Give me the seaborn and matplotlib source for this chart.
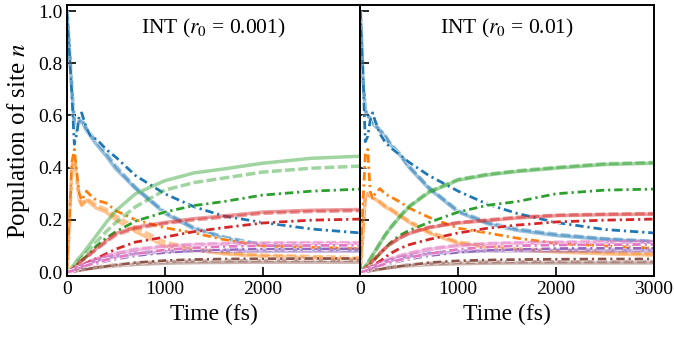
import numpy as np
import matplotlib
matplotlib.use("Agg")
import matplotlib.pyplot as plt
import matplotlib.patheffects as pe
import seaborn as sns

# ------------------------------
# Data
# ------------------------------
time_fs = [0, 25, 50, 75, 100, 125, 150, 200, 250, 300, 400, 500, 700,
           1000, 1300, 1600, 2000, 2500, 3000]

sites = ["1", "2", "3", "4", "5", "6", "7"]
panel_titles = ["INT ($r_0$ = 0.001)", "INT ($r_0$ = 0.01)"]

# panel 1 : r0 = 0.001
p1_solid = [
    [1.00, 0.85, 0.70, 0.57, 0.54, 0.575, 0.58, 0.54, 0.515, 0.49, 0.445, 0.395, 0.32, 0.225, 0.165, 0.13, 0.10, 0.09, 0.085],
    [0, 0.20, 0.40, 0.44, 0.36, 0.28, 0.255, 0.275, 0.26, 0.245, 0.23, 0.20, 0.155, 0.10, 0.085, 0.07, 0.06, 0.055, 0.05],
    [0, 0.008, 0.018, 0.03, 0.045, 0.055, 0.065, 0.09, 0.115, 0.14, 0.19, 0.235, 0.30, 0.35, 0.38, 0.395, 0.417, 0.436, 0.444],
    [0, 0.004, 0.01, 0.018, 0.027, 0.035, 0.045, 0.06, 0.075, 0.09, 0.12, 0.148, 0.172, 0.19, 0.205, 0.215, 0.23, 0.237, 0.24],
    [0, 0.003, 0.006, 0.01, 0.014, 0.018, 0.022, 0.03, 0.037, 0.043, 0.053, 0.06, 0.07, 0.078, 0.08, 0.08, 0.08, 0.08, 0.08],
    [0, 0.001, 0.002, 0.004, 0.005, 0.007, 0.008, 0.011, 0.014, 0.016, 0.02, 0.024, 0.029, 0.034, 0.036, 0.037, 0.038, 0.038, 0.038],
    [0, 0.003, 0.007, 0.012, 0.016, 0.02, 0.025, 0.033, 0.041, 0.048, 0.06, 0.07, 0.085, 0.097, 0.104, 0.107, 0.109, 0.11, 0.11],
]
p1_dashed = [
    [1.00, 0.85, 0.70, 0.57, 0.55, 0.58, 0.585, 0.55, 0.525, 0.50, 0.455, 0.405, 0.325, 0.23, 0.17, 0.135, 0.105, 0.095, 0.09],
    [0, 0.20, 0.40, 0.44, 0.36, 0.285, 0.26, 0.28, 0.27, 0.255, 0.24, 0.215, 0.17, 0.115, 0.09, 0.075, 0.065, 0.06, 0.055],
    [0, 0.006, 0.014, 0.024, 0.035, 0.045, 0.055, 0.075, 0.095, 0.115, 0.155, 0.19, 0.25, 0.314, 0.343, 0.36, 0.383, 0.398, 0.406],
    [0, 0.004, 0.01, 0.017, 0.025, 0.033, 0.042, 0.057, 0.072, 0.087, 0.115, 0.142, 0.167, 0.186, 0.20, 0.21, 0.225, 0.232, 0.235],
    [0, 0.003, 0.007, 0.011, 0.015, 0.02, 0.024, 0.033, 0.04, 0.046, 0.056, 0.064, 0.074, 0.081, 0.083, 0.084, 0.084, 0.085, 0.085],
    [0, 0.001, 0.002, 0.004, 0.006, 0.008, 0.01, 0.013, 0.016, 0.019, 0.024, 0.028, 0.034, 0.04, 0.042, 0.043, 0.044, 0.045, 0.045],
    [0, 0.003, 0.008, 0.013, 0.018, 0.022, 0.027, 0.036, 0.044, 0.051, 0.063, 0.073, 0.088, 0.10, 0.107, 0.11, 0.112, 0.113, 0.113],
]
p1_dashdot = [
    [1.00, 0.84, 0.68, 0.49, 0.53, 0.60, 0.61, 0.55, 0.515, 0.51, 0.47, 0.44, 0.37, 0.30, 0.25, 0.215, 0.19, 0.165, 0.15],
    [0, 0.20, 0.42, 0.47, 0.38, 0.30, 0.275, 0.31, 0.29, 0.275, 0.265, 0.235, 0.20, 0.17, 0.15, 0.125, 0.10, 0.095, 0.09],
    [0, 0.005, 0.012, 0.02, 0.03, 0.038, 0.045, 0.06, 0.08, 0.10, 0.13, 0.155, 0.195, 0.23, 0.255, 0.27, 0.295, 0.31, 0.318],
    [0, 0.002, 0.005, 0.01, 0.015, 0.02, 0.025, 0.035, 0.045, 0.052, 0.07, 0.088, 0.115, 0.134, 0.155, 0.17, 0.188, 0.199, 0.203],
    [0, 0.002, 0.004, 0.007, 0.01, 0.013, 0.016, 0.022, 0.028, 0.033, 0.042, 0.05, 0.063, 0.075, 0.082, 0.086, 0.089, 0.09, 0.09],
    [0, 0.001, 0.002, 0.003, 0.005, 0.006, 0.008, 0.011, 0.014, 0.017, 0.022, 0.027, 0.036, 0.044, 0.048, 0.05, 0.051, 0.052, 0.052],
    [0, 0.002, 0.004, 0.008, 0.012, 0.015, 0.018, 0.025, 0.031, 0.037, 0.047, 0.056, 0.07, 0.085, 0.093, 0.098, 0.101, 0.102, 0.103],
]

# panel 2 : r0 = 0.01
p2_solid = [
    [1.00, 0.75, 0.62, 0.60, 0.585, 0.57, 0.56, 0.54, 0.52, 0.49, 0.45, 0.40, 0.32, 0.23, 0.185, 0.16, 0.14, 0.125, 0.115],
    [0, 0.15, 0.29, 0.30, 0.29, 0.285, 0.28, 0.265, 0.25, 0.24, 0.215, 0.19, 0.15, 0.11, 0.095, 0.085, 0.077, 0.07, 0.065],
    [0, 0.01, 0.022, 0.035, 0.05, 0.065, 0.08, 0.11, 0.14, 0.165, 0.21, 0.25, 0.305, 0.352, 0.372, 0.385, 0.398, 0.412, 0.417],
    [0, 0.006, 0.014, 0.023, 0.033, 0.043, 0.053, 0.072, 0.09, 0.106, 0.13, 0.148, 0.17, 0.188, 0.197, 0.207, 0.216, 0.22, 0.222],
    [0, 0.003, 0.006, 0.01, 0.014, 0.018, 0.022, 0.03, 0.037, 0.043, 0.053, 0.06, 0.07, 0.078, 0.08, 0.081, 0.081, 0.081, 0.081],
    [0, 0.001, 0.002, 0.004, 0.005, 0.007, 0.008, 0.011, 0.014, 0.016, 0.02, 0.024, 0.029, 0.032, 0.034, 0.035, 0.035, 0.035, 0.035],
    [0, 0.003, 0.007, 0.012, 0.016, 0.02, 0.025, 0.033, 0.041, 0.048, 0.06, 0.07, 0.087, 0.10, 0.107, 0.11, 0.112, 0.114, 0.115],
]
p2_dashed = [
    [1.00, 0.75, 0.62, 0.60, 0.59, 0.575, 0.565, 0.545, 0.525, 0.495, 0.455, 0.405, 0.325, 0.235, 0.19, 0.165, 0.145, 0.128, 0.118],
    [0, 0.15, 0.29, 0.30, 0.29, 0.285, 0.28, 0.27, 0.255, 0.245, 0.22, 0.195, 0.155, 0.115, 0.10, 0.09, 0.082, 0.076, 0.07],
    [0, 0.01, 0.022, 0.035, 0.05, 0.065, 0.08, 0.11, 0.14, 0.167, 0.213, 0.253, 0.308, 0.355, 0.375, 0.388, 0.401, 0.415, 0.42],
    [0, 0.006, 0.014, 0.023, 0.033, 0.043, 0.053, 0.072, 0.09, 0.106, 0.131, 0.15, 0.172, 0.19, 0.2, 0.21, 0.218, 0.222, 0.224],
    [0, 0.003, 0.007, 0.011, 0.015, 0.02, 0.024, 0.033, 0.04, 0.046, 0.056, 0.064, 0.074, 0.081, 0.083, 0.084, 0.085, 0.085, 0.085],
    [0, 0.001, 0.002, 0.004, 0.006, 0.008, 0.01, 0.013, 0.016, 0.019, 0.024, 0.028, 0.033, 0.037, 0.039, 0.04, 0.04, 0.04, 0.04],
    [0, 0.003, 0.008, 0.013, 0.018, 0.022, 0.027, 0.036, 0.044, 0.051, 0.063, 0.073, 0.09, 0.103, 0.11, 0.113, 0.115, 0.117, 0.118],
]
p2_dashdot = [
    [1.00, 0.78, 0.50, 0.52, 0.58, 0.61, 0.58, 0.53, 0.50, 0.48, 0.45, 0.42, 0.37, 0.31, 0.26, 0.225, 0.19, 0.163, 0.15],
    [0, 0.25, 0.45, 0.47, 0.31, 0.28, 0.30, 0.32, 0.30, 0.29, 0.27, 0.245, 0.21, 0.168, 0.15, 0.13, 0.11, 0.10, 0.092],
    [0, 0.005, 0.012, 0.02, 0.03, 0.04, 0.05, 0.07, 0.09, 0.11, 0.14, 0.16, 0.19, 0.23, 0.256, 0.27, 0.30, 0.314, 0.318],
    [0, 0.003, 0.007, 0.012, 0.018, 0.024, 0.03, 0.042, 0.055, 0.07, 0.09, 0.105, 0.125, 0.15, 0.168, 0.18, 0.192, 0.199, 0.203],
    [0, 0.002, 0.004, 0.007, 0.01, 0.013, 0.016, 0.022, 0.028, 0.033, 0.042, 0.05, 0.063, 0.076, 0.083, 0.087, 0.09, 0.091, 0.091],
    [0, 0.001, 0.002, 0.003, 0.005, 0.006, 0.008, 0.011, 0.014, 0.017, 0.022, 0.027, 0.036, 0.043, 0.046, 0.048, 0.049, 0.05, 0.05],
    [0, 0.002, 0.004, 0.008, 0.012, 0.015, 0.018, 0.025, 0.031, 0.037, 0.047, 0.056, 0.07, 0.087, 0.096, 0.101, 0.104, 0.105, 0.106],
]

panels = [(p1_solid, p1_dashed, p1_dashdot), (p2_solid, p2_dashed, p2_dashdot)]

# ------------------------------
# Style
# ------------------------------
sns.set_style("ticks")
plt.rcParams["font.family"] = ["Liberation Serif", "DejaVu Serif"]
plt.rcParams["mathtext.fontset"] = "stix"
plt.rcParams["axes.linewidth"] = 1.4
plt.rcParams["axes.edgecolor"] = "black"
plt.rcParams["text.color"] = "black"
plt.rcParams["axes.labelcolor"] = "black"
plt.rcParams["xtick.color"] = "black"
plt.rcParams["ytick.color"] = "black"

colors = sns.color_palette("tab10", len(sites))
white_edge = [pe.withStroke(linewidth=3.0, foreground="white")]

fig, axes = plt.subplots(1, 2, figsize=(6.74, 3.37), dpi=100, sharey=True)
fig.subplots_adjust(left=0.0994, right=0.970, top=0.985, bottom=0.181, wspace=0)

for k, (ax, (sol, das, dd)) in enumerate(zip(axes, panels)):
    for i, c in enumerate(colors):
        sns.lineplot(x=time_fs, y=sol[i], ax=ax, color=c, lw=2.5, alpha=0.45)
        sns.lineplot(x=time_fs, y=das[i], ax=ax, color=c, lw=2.5, alpha=0.45,
                     linestyle=(0, (2.8, 1.0)))
        sns.lineplot(x=time_fs, y=dd[i], ax=ax, color=c, lw=2.0,
                     linestyle=(0, (3.0, 1.4, 0.8, 1.4)), path_effects=white_edge)

    ax.text(0.5, 0.915, panel_titles[k], transform=ax.transAxes,
            ha="center", va="center", fontsize=15.5)
    ax.set_xlim(0, 3000)
    ax.set_ylim(-0.015, 1.023)
    ax.set_yticks([0.0, 0.2, 0.4, 0.6, 0.8, 1.0])
    ax.set_xlabel("Time (fs)", fontsize=17)
    ax.tick_params(direction="in", length=6.5, width=1.2, labelsize=14)
    for s in ax.spines.values():
        s.set_visible(True)

axes[0].set_xticks([0, 1000, 2000])
axes[1].set_xticks([0, 1000, 2000, 3000])
axes[0].set_ylabel("Population of site $n$", fontsize=18)
axes[1].tick_params(labelleft=False)

fig.savefig("out.png", dpi=100)
